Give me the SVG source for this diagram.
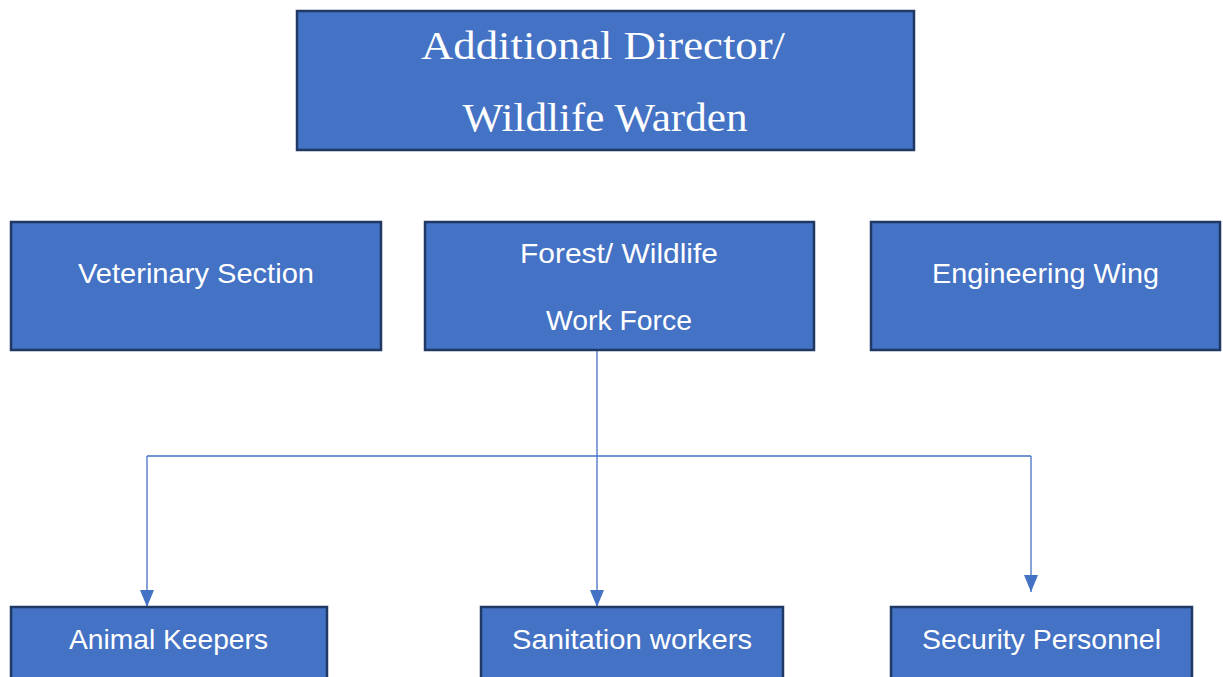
<svg xmlns="http://www.w3.org/2000/svg" width="1223" height="677" viewBox="0 0 1223 677">
<style>
.box{fill:#4472c4;stroke:#1f3864;stroke-width:2.5}
.t{fill:#ffffff;font-family:"Liberation Sans",Arial,sans-serif;font-size:28px;text-anchor:middle}
.ts{fill:#ffffff;font-family:"Liberation Serif","Times New Roman",serif;font-size:40px;text-anchor:middle}
.c{fill:none;stroke:#4472c4;stroke-width:1.3}
</style>
<defs>
<marker id="a" viewBox="0 0 17 14" refX="17" refY="7" markerWidth="17" markerHeight="14" markerUnits="userSpaceOnUse" orient="auto">
<path d="M0,0 L17,7 L0,14 Z" fill="#4472c4"/>
</marker>
</defs>
<rect width="1223" height="677" fill="#ffffff"/>
<g id="connectors">
<path class="c" d="M597,350 V607" marker-end="url(#a)"/>
<path class="c" d="M147,456 H1031"/>
<path class="c" d="M147,456 V607" marker-end="url(#a)"/>
<path class="c" d="M1031,456 V592" marker-end="url(#a)"/>
</g>
<g id="director">
<rect class="box" x="297" y="11" width="617" height="139"/>
<text class="ts" x="603" y="59" textLength="364" lengthAdjust="spacingAndGlyphs">Additional Director/</text>
<text class="ts" x="605" y="131" textLength="285" lengthAdjust="spacingAndGlyphs">Wildlife Warden</text>
</g>
<g id="veterinary">
<rect class="box" x="11" y="222" width="370" height="128"/>
<text class="t" x="196" y="283" textLength="236" lengthAdjust="spacingAndGlyphs">Veterinary Section</text>
</g>
<g id="forest">
<rect class="box" x="425" y="222" width="389" height="128"/>
<text class="t" x="619" y="263" textLength="198" lengthAdjust="spacingAndGlyphs">Forest/ Wildlife</text>
<text class="t" x="619" y="330" textLength="146" lengthAdjust="spacingAndGlyphs">Work Force</text>
</g>
<g id="engineering">
<rect class="box" x="871" y="222" width="349" height="128"/>
<text class="t" x="1045.5" y="283" textLength="227" lengthAdjust="spacingAndGlyphs">Engineering Wing</text>
</g>
<g id="animal">
<rect class="box" x="11" y="607" width="316" height="80"/>
<text class="t" x="168.5" y="649" textLength="199" lengthAdjust="spacingAndGlyphs">Animal Keepers</text>
</g>
<g id="sanitation">
<rect class="box" x="481" y="607" width="302" height="80"/>
<text class="t" x="632" y="649" textLength="240" lengthAdjust="spacingAndGlyphs">Sanitation workers</text>
</g>
<g id="security">
<rect class="box" x="891" y="607" width="301" height="80"/>
<text class="t" x="1041.5" y="649" textLength="239" lengthAdjust="spacingAndGlyphs">Security Personnel</text>
</g>
</svg>
